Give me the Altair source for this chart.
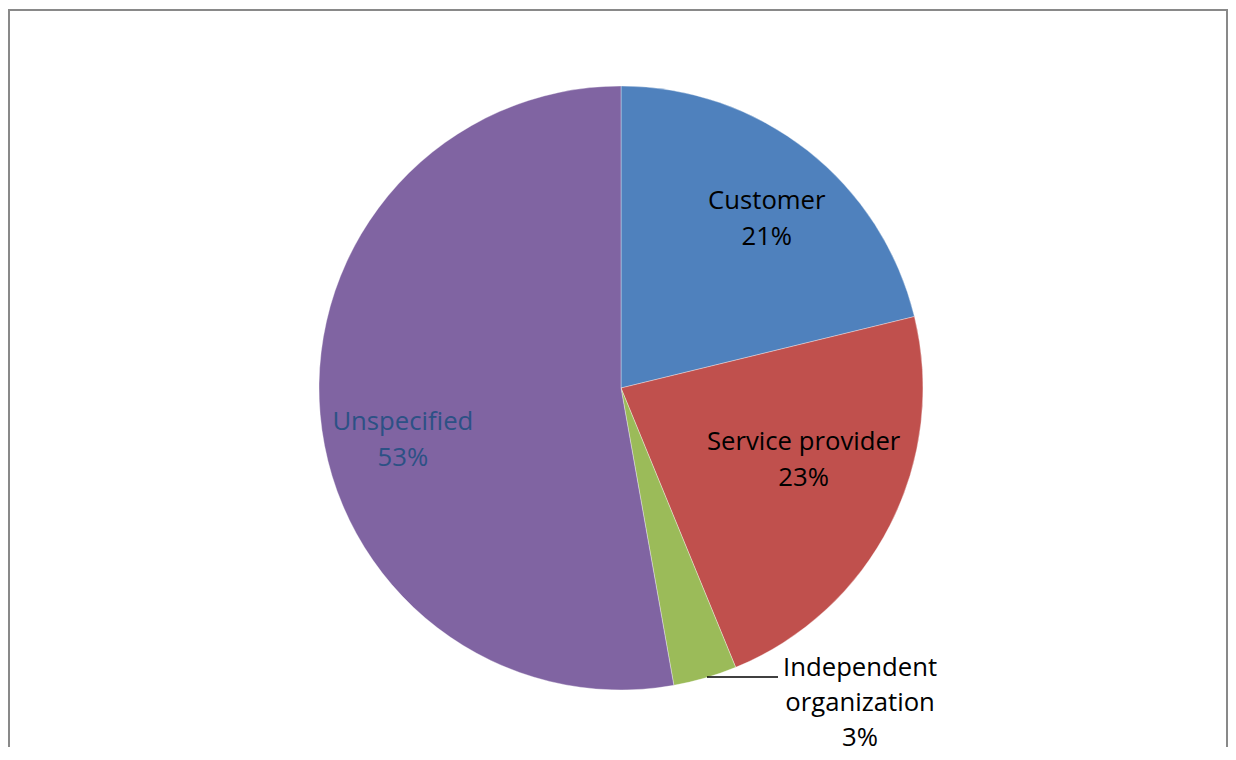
import math
import altair as alt
import pandas as pd

# ---- data ----
categories = ["Customer", "Service provider", "Independent organization", "Unspecified"]
shares = [21.2, 22.6, 3.4, 52.8]
label_names = ["Customer", "Service provider", "Independent\norganization", "Unspecified"]
colors = ["#4F81BD", "#C0504D", "#9BBB59", "#8064A2"]

df = pd.DataFrame({
    "category": categories,
    "share": shares,
    "order": list(range(len(categories))),
    "label": [f"{n}\n{round(s)}%" for n, s in zip(label_names, shares)],
})

CX, CY, R = 609, 380, 302
FONT = "Open Sans"
FS = 25.7
theta_scale = alt.Scale(domain=[0, 100], range=[0, 2 * math.pi])

pie = alt.Chart(df).mark_arc(
    outerRadius=R, stroke="white", strokeWidth=1, strokeOpacity=0.35
).encode(
    theta=alt.Theta("share:Q", stack=True, scale=theta_scale),
    order=alt.Order("order:Q"),
    color=alt.Color("category:N", scale=alt.Scale(domain=categories, range=colors), legend=None),
    x=alt.value(CX),
    y=alt.value(CY),
)


def label_layer(cat, radius, dx, dy, color, line_height=36):
    return alt.Chart(df).transform_window(
        cum="sum(share)", sort=[alt.SortField("order")]
    ).transform_calculate(
        mid="datum.cum - datum.share / 2"
    ).transform_filter(
        alt.datum.category == cat
    ).mark_text(
        radius=radius, dx=dx, dy=dy, font=FONT, fontSize=FS, lineBreak="\n",
        lineHeight=line_height, align="center", baseline="middle", color=color
    ).encode(
        theta=alt.Theta("mid:Q", stack=None, scale=theta_scale),
        text="label:N",
        x=alt.value(CX),
        y=alt.value(CY),
    )


labels = [
    label_layer("Customer", 202, 21, -28, "#000000"),
    label_layer("Service provider", 205, 0, -39, "#000000"),
    label_layer("Independent organization", 330, 147, -37, "#000000", 35),
    label_layer("Unspecified", 219, 0, 15, "#2C5185"),
]

one = pd.DataFrame({"a": [0]})
leader = alt.Chart(one).mark_rule(color="#000000", strokeWidth=1.5).encode(
    x=alt.value(695), x2=alt.value(766), y=alt.value(669)
)
frame_color = "#898989"
left = alt.Chart(one).mark_rule(color=frame_color, strokeWidth=2).encode(
    x=alt.value(-3), y=alt.value(1), y2=alt.value(800)
)
right = alt.Chart(one).mark_rule(color=frame_color, strokeWidth=2).encode(
    x=alt.value(1215), y=alt.value(1), y2=alt.value(800)
)
top = alt.Chart(one).mark_rule(color=frame_color, strokeWidth=2).encode(
    x=alt.value(-4), x2=alt.value(1216), y=alt.value(2)
)

chart = alt.layer(pie, *labels, leader, left, right, top).properties(
    width=1214,
    height=739,
    autosize=alt.AutoSizeParams(type="none"),
    padding={"left": 4, "right": 2, "top": 0, "bottom": 0},
).configure_view(stroke=None)

chart.save("out.html", embed_options={"renderer": "svg", "actions": False})
